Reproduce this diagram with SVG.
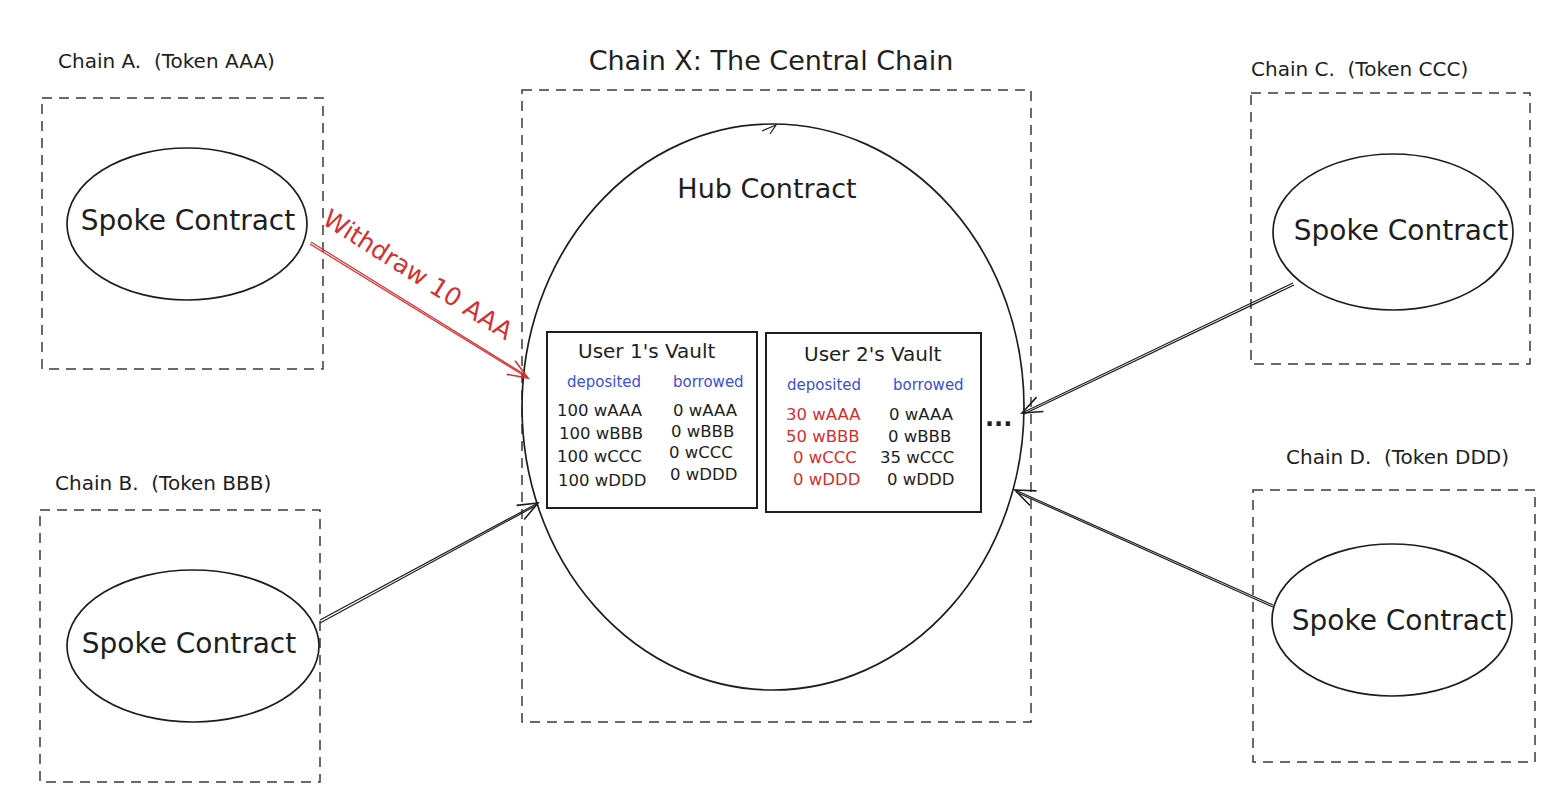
<svg xmlns="http://www.w3.org/2000/svg" width="1567" height="800" viewBox="0 0 1567 800">
<style>
  text { font-family: "DejaVu Sans", "Liberation Sans", sans-serif; fill: #1e1e1e; }
  .chain { fill: none; stroke: #3a3a3a; stroke-width: 1.5; stroke-dasharray: 10 7; }
  .oval { fill: none; stroke: #1e1e1e; stroke-width: 1.7; }
  .vault { fill: #ffffff; stroke: #1e1e1e; stroke-width: 2; }
  .lbl { font-size: 20px; white-space: pre; }
  .big { font-size: 28px; text-anchor: middle; }
  .vt { font-size: 20px; }
  .hd { font-size: 15px; fill: #3b4fd6; }
  .row { font-size: 16.5px; }
  .red { fill: #d62f2f; }
  .conn { fill: none; stroke: #1e1e1e; stroke-width: 1.2; }
  .connr { fill: none; stroke: #d62f2f; stroke-width: 1.2; }
</style>
<defs>
  <marker id="ah" viewBox="-22 -10 24 20" refX="0" refY="0" markerWidth="24" markerHeight="20" markerUnits="userSpaceOnUse" orient="auto" overflow="visible">
    <path d="M-20,-8 L0,0 L-20,8" fill="none" stroke="#1e1e1e" stroke-width="1.6"/>
  </marker>
  <marker id="ahr" viewBox="-22 -10 24 20" refX="0" refY="0" markerWidth="24" markerHeight="20" markerUnits="userSpaceOnUse" orient="auto" overflow="visible">
    <path d="M-20,-8 L0,0 L-20,8" fill="none" stroke="#d62f2f" stroke-width="1.6"/>
  </marker>
</defs>
<rect width="1567" height="800" fill="#ffffff"/>

<g id="chain-a">
  <text class="lbl" x="58" y="68">Chain A.  (Token AAA)</text>
  <rect class="chain" x="42" y="98" width="281" height="271"/>
  <g id="spoke-a">
    <ellipse class="oval" cx="187" cy="224" rx="120" ry="76"/>
    <text class="big" x="188" y="230">Spoke Contract</text>
  </g>
</g>

<g id="chain-b">
  <text class="lbl" x="55" y="490">Chain B.  (Token BBB)</text>
  <rect class="chain" x="40" y="510" width="280" height="272"/>
  <g id="spoke-b">
    <ellipse class="oval" cx="193" cy="646" rx="126" ry="76"/>
    <text class="big" x="189" y="653">Spoke Contract</text>
  </g>
</g>

<g id="chain-c">
  <text class="lbl" x="1251" y="76">Chain C.  (Token CCC)</text>
  <rect class="chain" x="1251" y="93" width="279" height="271"/>
  <g id="spoke-c">
    <ellipse class="oval" cx="1393" cy="232" rx="120" ry="78"/>
    <text class="big" x="1401" y="240">Spoke Contract</text>
  </g>
</g>

<g id="chain-d">
  <text class="lbl" x="1286" y="464">Chain D.  (Token DDD)</text>
  <rect class="chain" x="1253" y="490" width="282" height="272"/>
  <g id="spoke-d">
    <ellipse class="oval" cx="1392" cy="620" rx="120" ry="76"/>
    <text class="big" x="1399" y="630">Spoke Contract</text>
  </g>
</g>

<g id="chain-x">
  <text class="big" x="771" y="70" style="font-size:27px">Chain X: The Central Chain</text>
  <rect class="chain" x="522" y="90" width="509" height="632"/>
  <g id="hub">
    <ellipse class="oval" cx="773" cy="407" rx="251" ry="283"/>
    <path d="M762,131 L776,125 L770,134" fill="none" stroke="#1e1e1e" stroke-width="1.2"/>
    <text class="big" x="767" y="198" style="font-size:27px">Hub Contract</text>
  </g>
  <g id="vault-1">
    <rect class="vault" x="547" y="332" width="210" height="176"/>
    <text class="vt" x="578" y="358">User 1's Vault</text>
    <text class="hd" x="567" y="387">deposited</text>
    <text class="hd" x="673" y="387">borrowed</text>
    <text class="row" x="557" y="416">100 wAAA</text>
    <text class="row" x="559" y="439">100 wBBB</text>
    <text class="row" x="557" y="462">100 wCCC</text>
    <text class="row" x="558" y="486">100 wDDD</text>
    <text class="row" x="673" y="416">0 wAAA</text>
    <text class="row" x="671" y="437">0 wBBB</text>
    <text class="row" x="669" y="458">0 wCCC</text>
    <text class="row" x="670" y="480">0 wDDD</text>
  </g>
  <g id="vault-2">
    <rect class="vault" x="766" y="333" width="215" height="179"/>
    <text class="vt" x="804" y="361">User 2's Vault</text>
    <text class="hd" x="787" y="390">deposited</text>
    <text class="hd" x="893" y="390">borrowed</text>
    <text class="row red" x="786" y="420">30 wAAA</text>
    <text class="row red" x="786" y="442">50 wBBB</text>
    <text class="row red" x="793" y="463">0 wCCC</text>
    <text class="row red" x="793" y="485">0 wDDD</text>
    <text class="row" x="889" y="420">0 wAAA</text>
    <text class="row" x="888" y="442">0 wBBB</text>
    <text class="row" x="880" y="463">35 wCCC</text>
    <text class="row" x="887" y="485">0 wDDD</text>
  </g>
  <text id="more" x="985" y="426" style="font-size:24px;font-weight:bold">...</text>
</g>

<g id="connectors">
  <g id="conn-a">
    <path class="connr" d="M310,244 L528,378" marker-end="url(#ahr)"/>
    <path class="connr" d="M311,242 L527,376"/>
    <text class="red" transform="translate(321,223) rotate(32.5)" style="font-size:25px;fill:#d62f2f">Withdraw 10 AAA</text>
  </g>
  <g id="conn-b">
    <path class="conn" d="M320,620 L538,503" marker-end="url(#ah)"/>
    <path class="conn" d="M320,623 L537,505"/>
  </g>
  <g id="conn-c">
    <path class="conn" d="M1293,283 L1022,413" marker-end="url(#ah)"/>
    <path class="conn" d="M1294,285 L1024,414"/>
  </g>
  <g id="conn-d">
    <path class="conn" d="M1273,605 L1015,490" marker-end="url(#ah)"/>
    <path class="conn" d="M1273,607 L1016,492"/>
  </g>
</g>
</svg>
